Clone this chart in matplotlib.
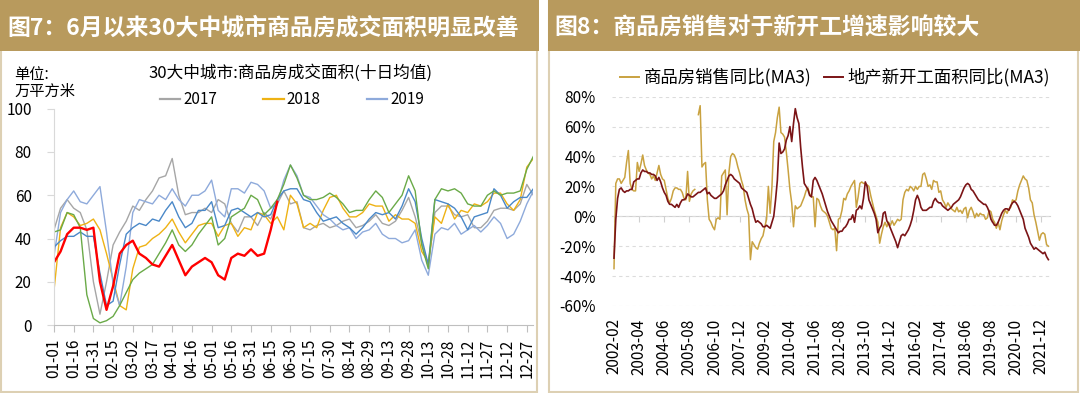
import numpy as np
import pandas as pd
import matplotlib
matplotlib.use('Agg')
import matplotlib.pyplot as plt
from matplotlib.patches import Rectangle

plt.rcParams['font.family'] = ['Noto Sans CJK SC', 'DejaVu Sans']
plt.rcParams['axes.unicode_minus'] = False

# ---------------- left chart data: 10-day avg, sampled every 5 days from 01-01
area_2017 = [44, 54, 58, 54, 52, 44, 20, 5, 20, 37,
             43, 48, 55, 53, 58, 62, 68, 69, 77, 60,
             51, 52, 52, 54, 52, 58, 56, 47, 43, 50,
             50, 46, 52, 49, 56, 62, 56, 57, 45, 44,
             46, 47, 45, 46, 48, 49, 45, 46, 48, 51,
             47, 46, 48, 53, 59, 50, 38, 27, 52, 55,
             55, 51, 50, 51, 45, 45, 48, 53, 54, 54,
             53, 56, 65, 60]
area_2018 = [16, 45, 52, 50, 46, 47, 49, 44, 33, 21,
             9, 7, 26, 36, 37, 40, 42, 45, 49, 43,
             38, 42, 46, 47, 47, 41, 46, 47, 41, 45,
             44, 52, 51, 47, 50, 44, 60, 56, 45, 47,
             45, 53, 59, 60, 54, 50, 50, 52, 56, 55,
             55, 48, 51, 49, 49, 47, 34, 29, 50, 47,
             56, 49, 53, 52, 56, 55, 57, 61, 61, 56,
             53, 58, 73, 77]
area_2019 = [32, 52, 58, 62, 57, 56, 60, 64, 43, 19,
             9, 27, 52, 58, 57, 56, 60, 58, 63, 58,
             55, 60, 60, 62, 67, 53, 50, 63, 63, 61,
             66, 65, 62, 54, 56, 67, 74, 69, 60, 59,
             55, 51, 49, 46, 44, 45, 40, 43, 44, 47,
             42, 40, 40, 38, 39, 44, 30, 23, 42, 45,
             44, 47, 42, 44, 46, 43, 46, 50, 47, 40,
             42, 48, 56, 62]
area_2020 = [36, 39, 41, 41, 43, 41, 41, 24, 9, 11,
             28, 42, 45, 47, 46, 49, 48, 53, 57, 50,
             45, 47, 53, 53, 57, 45, 46, 53, 54, 52,
             50, 52, 50, 51, 58, 62, 63, 63, 58, 57,
             52, 48, 49, 50, 47, 45, 42, 45, 49, 52,
             51, 52, 49, 55, 63, 57, 40, 28, 58, 57,
             56, 54, 50, 44, 50, 51, 52, 63, 60, 54,
             57, 59, 59, 63]
area_2021 = [43, 44, 52, 51, 45, 14, 3, 1, 2, 4,
             9, 15, 21, 24, 26, 28, 33, 38, 44, 37,
             34, 37, 42, 46, 50, 37, 40, 50, 52, 54,
             60, 58, 51, 54, 58, 65, 74, 68, 60, 58,
             58, 59, 61, 59, 56, 52, 53, 53, 58, 62,
             59, 52, 56, 60, 69, 62, 37, 26, 58, 63,
             62, 63, 61, 56, 55, 55, 60, 62, 60, 61,
             61, 62, 72, 78]
area_2022 = [29, 34, 42, 45, 45, 44, 45, 20, 7, 18,
             33, 37, 39, 33, 31, 28, 27, 32, 37, 30,
             23, 27, 29, 31, 29, 23, 21, 31, 33, 32,
             35, 32, 33, 44, 57]
left_years = ['2017', '2018', '2019', '2020', '2021', '2022']
left_colors = ['#a6a6a6', '#eeb214', '#8eaadb', '#4a88c8', '#6aaa48', '#ff0000']

# ---------------- right chart data: monthly MA3 yoy (%), 2002-02 .. 2022-04
sales_yoy = [-35, 22, 25, 25, 22, 24, 26, 36, 44, 22, 18,
             17, 17, 36, 30, 35, 41, 34, 31, 29, 28, 25, 27,
             24, 29, 34, 28, 25, 24, 18, 12, 9, 12, 17, 19,
             19, 18, 18, 16, 12, 11, 30, 10, 15, 17, 18, np.nan,
             68, 74, 33, 35, 36, 11, -2, -4, -7, -9, -2, -1,
             -2, 27, 29, 31, 1, 29, 40, 42, 41, 38, 33, 29,
             24, 20, 11, 5, 1, -29, -17, -19, -21, -22, -18, -15,
             -13, -7, -2, 20, 2, 20, 50, 56, 66, 73, 56, 55,
             53, 43, 31, 18, 9, -7, 7, 5, 6, 7, 10, 13,
             17, 19, 15, 13, 13, -7, 12, 11, 7, 4, 3, 2,
             0, -4, -8, -9, -8, -23, -2, -1, 4, 12, 11, 15,
             17, 20, 22, 24, 6, 13, 22, 23, 22, 22, 21, 20,
             14, 9, 4, 0, -4, -18, -12, -7, -4, -7, -4, -6,
             -3, -6, -4, -2, -3, -2, 11, 16, 18, 17, 20, 19,
             17, 20, 18, 20, 20, 28, 29, 25, 20, 21, 18, 24,
             23, 23, 16, 17, 11, 9, 6, 9, 7, 5, 4, 3,
             6, 3, 4, 2, 5, 6, -1, 4, 6, 3, -1, 2,
             0, 2, 1, 1, -2, -1, 4, 3, -2, -4, -8, -4,
             -9, -3, 1, 4, 2, 5, 6, 11, 10, 11, 17, 21,
             24, 27, 25, 24, 19, 11, 9, 1, -4, -10, -16, -12,
             -11, -12, -19, -20]
starts_yoy = [-28, -2, 12, 18, 19, 17, 16, 17, 17, 18, 18,
              23, 24, 25, 25, 29, 31, 30, 30, 29, 29, 28, 28,
              27, 24, 26, 23, 19, 16, 14, 10, 8, 8, 7, 6,
              8, 6, 9, 11, 11, 12, 15, 14, 13, 13, 14, 15,
              16, 16, 17, 18, 19, 15, 16, 14, 13, 12, 12, 13,
              14, 15, 17, 21, 24, 27, 28, 27, 25, 24, 23, 22,
              19, 18, 17, 16, 12, 8, 5, 0, -4, -3, -4, -5,
              -7, -7, -6, -7, -8, -4, 0, 11, 24, 49, 42, 43,
              45, 51, 54, 60, 50, 62, 72, 66, 62, 46, 33, 22,
              20, 18, 14, 13, 24, 26, 24, 21, 18, 15, 11, 7,
              3, 0, -3, -5, -7, -9, -11, -10, -10, -8, -7, -5,
              -2, -2, 1, -4, 4, 5, 7, 5, 12, 23, 20, 11,
              8, 5, 2, -2, -11, -8, -6, 2, 3, -3, -5, -8,
              -11, -14, -17, -21, -17, -13, -12, -13, -11, -9, -6, -2,
              4, 11, 14, 11, 6, 4, 4, 4, 5, 6, 6, 10,
              12, 10, 9, 9, 7, 6, 5, 4, 5, 6, 8, 9,
              10, 11, 13, 16, 19, 21, 22, 21, 18, 17, 15, 13,
              11, 10, 9, 8, 8, 6, 3, -2, -4, -6, -6, -4,
              -1, 2, 4, 5, 5, 4, 7, 9, 10, 9, 7, 4,
              1, -2, -8, -11, -14, -18, -20, -22, -21, -22, -23, -24,
              -25, -24, -27, -29]
right_labels = ['商品房销售同比(MA3)', '地产新开工面积同比(MA3)']
right_yticks = [-60, -40, -20, 0, 20, 40, 60, 80]

W, H = 1080, 393
GOLD = '#b89a5d'
BORDER = '#ddd0b3'


def fx(x):
    return x / W


def fy(y):
    return 1 - y / H


def box(x0, y0, x1, y1):
    return [fx(x0), fy(y1), fx(x1) - fx(x0), fy(y0) - fy(y1)]


fig = plt.figure(figsize=(W / 100, H / 100), dpi=100)

# panels and header bars (kept behind the axes)
for x0, x1 in [(0, 539), (548, 1080)]:
    fig.add_artist(Rectangle((fx(x0 + 1), fy(392)), fx(x1 - 2) - fx(x0 + 1),
                             fy(1) - fy(392), transform=fig.transFigure,
                             facecolor='white', edgecolor=BORDER, lw=1.5,
                             zorder=-10))
    fig.add_artist(Rectangle((fx(x0), fy(51)), fx(x1) - fx(x0), fy(0) - fy(51),
                             transform=fig.transFigure, facecolor=GOLD,
                             edgecolor='none', zorder=-9))
fig.text(fx(7), fy(28), '图7：6月以来30大中城市商品房成交面积明显改善',
         color='white', fontsize=16.5, fontweight='bold', va='center')
fig.text(fx(554), fy(28), '图8：商品房销售对于新开工增速影响较大',
         color='white', fontsize=16.5, fontweight='bold', va='center')

# ---------------- left chart
day_step = 5
px_per_day = 19.7 / 15
ax1 = fig.add_axes(box(54, 108.75, 54 + 365 * px_per_day, 325))
ax1.patch.set_alpha(0)
for year, vals, col in zip(left_years,
                           [area_2017, area_2018, area_2019, area_2020, area_2021, area_2022],
                           left_colors):
    days = np.arange(len(vals)) * day_step
    lw = 1.7 if year == '2022' else 1.0
    ax1.plot(days, vals, color=col, lw=lw, label=year)
ax1.set_xlim(0, 365)
ax1.set_ylim(0, 100)
tick_days = np.arange(0, 361, 15)
tick_names = pd.date_range('2017-01-01', periods=len(tick_days), freq='15D').strftime('%m-%d')
ax1.set_xticks(tick_days, labels=tick_names)
ax1.set_yticks(np.arange(0, 101, 20))
for s in ['top', 'right']:
    ax1.spines[s].set_visible(False)
ax1.spines['left'].set_color('#d9d9d9')
ax1.spines['bottom'].set_color('#bfbfbf')
ax1.tick_params(axis='x', length=5, color='#bfbfbf', rotation=90, labelsize=11, pad=5)
ax1.tick_params(axis='y', length=5, color='#d9d9d9', labelsize=11, pad=11)
h, l = ax1.get_legend_handles_labels()
leg1 = ax1.legend(h[:3], l[:3], ncol=3, frameon=False, loc='center',
                  bbox_to_anchor=(fx(292), fy(100)), bbox_transform=fig.transFigure,
                  fontsize=11, handlelength=1.35, handletextpad=0.2, columnspacing=3.0)
for ln in leg1.get_lines():
    ln.set_linewidth(1.6)
fig.text(fx(290), fy(73), '30大中城市:商品房成交面积(十日均值)',
         ha='center', va='center', fontsize=12)
fig.text(fx(14), fy(74), '单位:', va='center', fontsize=11)
fig.text(fx(14), fy(91), '万平方米', va='center', fontsize=11)

# ---------------- right chart
px_per_month = 1.795
x_m0 = 614
ax2 = fig.add_axes(box(x_m0 - px_per_month, 96.7, x_m0 + 243 * px_per_month, 306))
ax2.patch.set_alpha(0)
months = np.arange(len(sales_yoy))
ax2.plot(months, sales_yoy, color='#c9a240', lw=1.1, label=right_labels[0])
ax2.plot(months, starts_yoy, color='#7b1416', lw=1.2, label=right_labels[1])
ax2.set_xlim(-1, 243)
ax2.set_ylim(-60, 80)
ax2.set_yticks(right_yticks, labels=[f'{v}%' for v in right_yticks])
ax2.yaxis.grid(True, ls=(0, (3, 3)), color='#dcdcdc', lw=0.8)
ax2.set_axisbelow(True)
for s in ax2.spines.values():
    s.set_visible(False)
dates = pd.date_range('2002-02-01', periods=len(sales_yoy), freq='MS')
xt = np.arange(0, len(sales_yoy), 14)
ax2.set_xticks(xt, labels=dates[xt].strftime('%Y-%m'))
ax2.tick_params(axis='x', length=0, rotation=90, labelsize=11, pad=9)
ax2.tick_params(axis='y', length=0, labelsize=11, pad=12)
zero_axis = ax2.secondary_xaxis(60 / 140)
zero_axis.set_xticks(xt, labels=[])
zero_axis.tick_params(length=4, color='#d0d0d0')
zero_axis.spines['bottom'].set_color('#d0d0d0')
leg2 = ax2.legend(ncol=2, frameon=False, loc='center',
                  bbox_to_anchor=(fx(835), fy(77.5)), bbox_transform=fig.transFigure,
                  fontsize=12.5, handlelength=1.1, handletextpad=0.25, columnspacing=0.7)
for ln in leg2.get_lines():
    ln.set_linewidth(1.4)

fig.savefig('out.png', dpi=100)
